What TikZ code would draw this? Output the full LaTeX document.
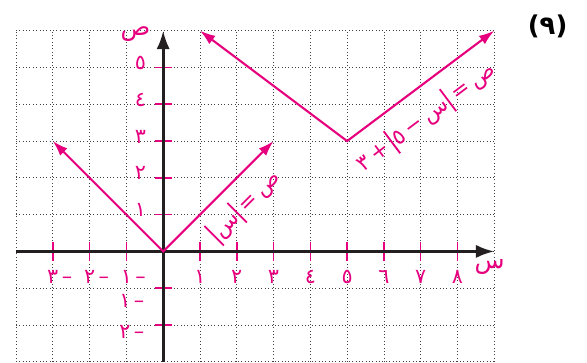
\documentclass[tikz,border=0pt]{standalone}
\usepackage{fontspec}
\usepackage{tikz}
\usetikzlibrary{arrows.meta}
\newfontfamily\arabicfont[Script=Arabic]{DejaVu Sans}
\TeXXeTstate=1
\definecolor{graphpink}{HTML}{E6007E}
\definecolor{axisgray}{HTML}{231F20}
\newcommand\absbar{\hbox{\kern1.5pt\rule[-0.3em]{1.4pt}{1.25em}\kern1.5pt}}

\begin{document}
\begin{tikzpicture}[every node/.style={font=\arabicfont\fontsize{16}{18}\selectfont, text=graphpink, inner sep=1pt}]
\tikzset{gridline/.style={dotted, line width=0.6pt, black!75}}
\tikzset{axis/.style={-{Latex[length=5mm, width=3.6mm]}, line width=2.2pt, axisgray}}
\tikzset{graph/.style={{Latex[length=4.2mm, width=2.8mm]}-{Latex[length=4.2mm, width=2.8mm]}, line width=1.6pt, graphpink}}
\tikzset{tickmark/.style={line width=1.2pt, graphpink}}
\tikzset{eqlabel/.style={font=\arabicfont\fontsize{17}{19}\selectfont}}
\useasboundingbox (-4.435,-3.03) rectangle (11.52,6.834);
\draw[gridline] (-4,-3) grid (9,6);
% ticks
\foreach \x in {-3,-2,-1,1,2,...,8} \draw[tickmark] (\x,-0.26) -- (\x,0.26);
\foreach \y in {-2,-1,1,2,...,5} \draw[tickmark] (-0.23,\y) -- (0.23,\y);
% axes
\coordinate (xmin) at (-4,0);
\coordinate (xmax) at (9,0);
\coordinate (ymin) at (0,-3);
\coordinate (ymax) at (0,6);
\draw[axis] (xmin) -- (xmax);
\draw[axis] (ymin) -- (ymax);
\node[font=\arabicfont\fontsize{19}{21}\selectfont] (xlab) at (8.87,-0.42) {س};
\node[font=\arabicfont\fontsize{19}{21}\selectfont] (ylab) at (-0.75,5.9) {ص};
% tick labels
\foreach \x/\d in {1/١,2/٢,3/٣,4/٤,5/٥,6/٦,7/٧,8/٨}
  \node (xl\x) at (\x,-0.7) {\d};
\foreach \x/\d in {-1/١,-2/٢,-3/٣}
  \node (xl\x) at (\x,-0.7) {\d\rlap{\,–}};
\foreach \y/\d in {1/١,2/٢,3/٣,4/٤,5/٥}
  \node (yl\y) at (-0.62,\y+0.12) {\d};
\node (yl-1) at (-1.04,-1.35) {١\rlap{\,–}};
\node (yl-2) at (-1.04,-2.2) {٢\rlap{\,–}};
% graphs
\coordinate (o) at (0,0);
\coordinate (a1) at (-3,3);
\coordinate (a2) at (3,3);
\coordinate (v) at (5,3);
\coordinate (b1) at (1,6);
\coordinate (b2) at (9,6);
\draw[graph] (a1) -- (o) -- (a2);
\draw[graph] (b1) -- (v) -- (b2);
\node[eqlabel, rotate=45] (eq1) at (2.2,1.24) {\beginR ص\,=\,\absbar س\absbar\endR};
\node[eqlabel, rotate=36.87] (eq2) at (7.14,3.66) {\beginR ص\,=\,\absbar س\,−\,٥\absbar\,+\,٣\endR};
\node[text=black, font=\arabicfont\bfseries\fontsize{20}{22}\selectfont] (title) at (10.45,6.11) {(٩)};
\end{tikzpicture}
\end{document}
